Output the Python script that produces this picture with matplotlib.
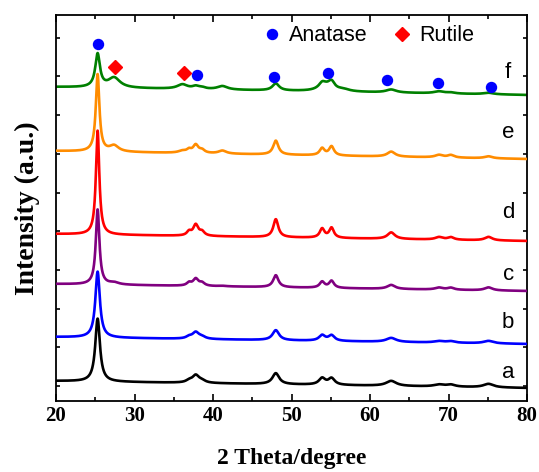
import numpy as np
import matplotlib
matplotlib.use("Agg")
import matplotlib.pyplot as plt
from matplotlib.lines import Line2D

# ---- data ----
samples = ["a", "b", "c", "d", "e", "f"]
colors = ["#000000", "#0000ff", "#800080", "#ff0000", "#ff8c00", "#008000"]
baseline_left = [20, 64, 117, 167, 250, 314]
baseline_right = [13, 57, 110, 160, 242, 306]
width_scale = [1.3, 1.25, 1.0, 0.95, 1.0, 1.3]

peak_pos = [25.3, 27.4, 36.1, 36.95, 37.8, 38.6, 41.2, 48.0, 53.9, 54.3, 55.1, 56.6, 62.7, 68.8, 70.3, 75.1]
peak_fwhm = [0.55, 1.4, 1.2, 0.7, 0.8, 0.8, 1.2, 0.8, 0.75, 1.6, 0.75, 1.4, 1.2, 1.2, 1.0, 1.2]
heights_a = [63, 0, 0, 2, 7.5, 2, 0, 11, 6.5, 0, 6.5, 0, 5, 2, 2, 3.5]
heights_b = [66, 0, 0, 2, 6.5, 2, 0, 10, 5.5, 0, 5.5, 0, 4, 1.5, 1.5, 2.5]
heights_c = [75, 2, 0, 3, 7, 3, 0.5, 12, 6, 0, 7, 0, 4, 2, 2, 3]
heights_d = [104, 0, 0, 4, 11, 4, 0, 18, 9, 0, 10, 0, 6.5, 2.5, 2.5, 3.5]
heights_e = [77, 6, 2, 3, 8, 3, 3, 14, 7, 0, 9, 0, 5, 2.5, 2.5, 2]
heights_f = [33, 10, 4.5, 0, 2.5, 1.5, 3.5, 7, 4.5, 5, 7.5, 2, 3, 2, 1, 1.5]
heights = [heights_a, heights_b, heights_c, heights_d, heights_e, heights_f]

anatase_x = [25.3, 38.0, 47.8, 54.7, 62.2, 68.7, 75.4]
anatase_y = [357, 326, 324, 328, 321, 318, 314]
rutile_x = [27.5, 36.3]
rutile_y = [334, 328]

label_x = 77.6
label_y = [28, 78, 126, 188, 269, 328]

xticks = [20, 30, 40, 50, 60, 70, 80]

# ---- figure ----
fig = plt.figure(figsize=(5.39, 4.72), dpi=100)
ax = fig.add_axes([56 / 539, (472 - 401) / 472, 471 / 539, 386 / 472])

x = np.linspace(20, 80, 4001)
for i in reversed(range(len(samples))):
    base = baseline_left[i] + (baseline_right[i] - baseline_left[i]) * (x - 20) / 60
    y = base.copy()
    for p, w, h in zip(peak_pos, peak_fwhm, heights[i]):
        hw = w * width_scale[i] / 2
        y += h / (1 + ((x - p) / hw) ** 2)
    ax.plot(x, y, color=colors[i], lw=1.9, zorder=2 + (5 - i))
    ax.text(label_x, label_y[i], samples[i], ha="center", va="center",
            fontsize=16, family="Liberation Sans")

ax.plot(anatase_x, anatase_y, "o", color="#0000ff", ms=7.2, ls="none", zorder=10)
ax.plot(rutile_x, rutile_y, "D", color="#ff0000", ms=7.0, ls="none", zorder=10)

handles = [Line2D([], [], marker="o", color="#0000ff", ls="none", ms=7.2),
           Line2D([], [], marker="D", color="#ff0000", ls="none", ms=7.0)]
leg = ax.legend(handles, ["Anatase", "Rutile"], loc="center", bbox_to_anchor=(0.659, 0.946),
                ncol=2, frameon=False, handletextpad=0.2, columnspacing=1.0,
                prop={"family": "Liberation Sans", "size": 15.5}, handlelength=1.2)

ax.set_xlim(20, 80)
ax.set_ylim(0, 386)
ax.set_xticks(xticks)
ax.set_xticks(np.arange(25, 80, 10), minor=True)
ax.set_yticks([15 + k * 38.7 for k in range(10)])
ax.set_yticklabels([])
ax.tick_params(axis="both", which="both", direction="in", top=True, right=True, width=1.2)
ax.tick_params(axis="x", which="major", length=5)
ax.tick_params(axis="x", which="minor", length=3)
ax.tick_params(axis="y", length=3)
for lab in ax.get_xticklabels():
    lab.set_family("Liberation Serif")
    lab.set_fontweight("bold")
    lab.set_fontsize(15)
for s in ax.spines.values():
    s.set_linewidth(1.3)

ax.set_xlabel("2 Theta/degree", family="Liberation Serif", fontweight="bold", fontsize=17, labelpad=16)
ax.set_ylabel("Intensity (a.u.)", family="Liberation Serif", fontweight="bold", fontsize=20, labelpad=8)

fig.savefig("out.png", dpi=100)
